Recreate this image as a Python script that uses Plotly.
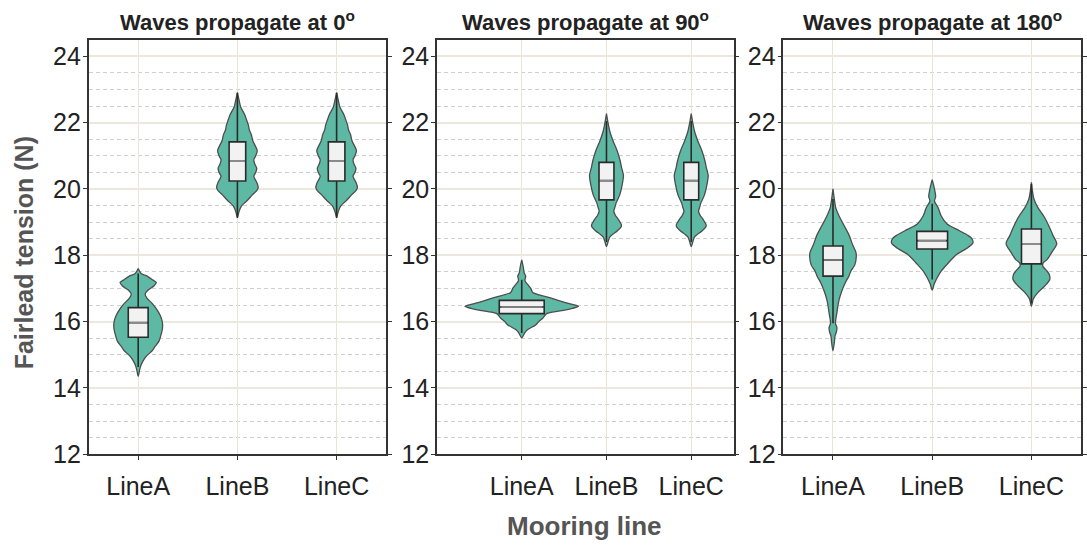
import plotly.graph_objects as go

# ---- data ---------------------------------------------------------------
panels = ["Waves propagate at 0<sup>o</sup>",
          "Waves propagate at 90<sup>o</sup>",
          "Waves propagate at 180<sup>o</sup>"]
lines = ["LineA", "LineB", "LineC"]
y_ticks = [12, 14, 16, 18, 20, 22, 24]

# violin outlines: tension levels (N) and kernel density (relative half-width)
p0_lineA_levels = [14.35, 14.55, 14.7, 14.87, 14.98, 15.12, 15.25, 15.41, 15.6, 15.8, 16.0, 16.2, 16.4,
                   16.55, 16.7, 16.83, 16.95, 17.08, 17.18, 17.25, 17.37, 17.45, 17.6]
p0_lineA_density = [0, 1.5, 3, 6, 9, 14, 17, 21, 23, 24.5, 24.3, 22, 18,
                    14, 9, 7, 10, 16, 18.3, 15, 9, 3, 0]
p0_lineB_levels = [19.14, 19.3, 19.48, 19.6, 19.68, 19.82, 19.95, 20.05, 20.2, 20.38, 20.5, 20.62,
                   20.75, 20.88, 21.0, 21.15, 21.3, 21.45, 21.64, 21.78, 21.93, 22.1, 22.23,
                   22.47, 22.7, 22.9]
p0_lineB_density = [0, 1.5, 4, 8, 10.8, 15, 19.5, 21, 19.5, 16.5, 18.5, 19.5,
                    17.5, 16.5, 18.5, 20, 18, 15.5, 14, 12, 11, 9, 7.5,
                    3.3, 1.5, 0]
p0_lineC_levels = p0_lineB_levels
p0_lineC_density = p0_lineB_density

p90_lineA_levels = [15.51, 15.66, 15.76, 15.9, 16.0, 16.1, 16.24, 16.34, 16.4, 16.46, 16.52, 16.59,
                    16.74, 16.88, 17.0, 17.08, 17.23, 17.3, 17.37, 17.47, 17.65, 17.86]
p90_lineA_density = [0, 3, 6, 14, 17, 21, 25, 42, 51, 57, 51, 42,
                     26, 11, 9, 7, 3.3, 3.5, 4, 2.5, 1.5, 0]
p90_lineB_levels = [18.26, 18.45, 18.55, 18.74, 18.85, 18.91, 19.0, 19.09, 19.2, 19.33, 19.45, 19.58,
                    19.82, 20.12, 20.41, 20.66, 20.85, 21.15, 21.44, 21.74, 22.0, 22.27]
p90_lineB_density = [0, 2, 3.3, 11, 14.5, 15, 13.5, 11.7, 9, 7.3, 8.5, 9.7,
                     13.3, 15.7, 17, 15, 13.7, 10.7, 6.7, 3.3, 1.5, 0]
p90_lineC_levels = p90_lineB_levels
p90_lineC_density = p90_lineB_density

p180_lineA_levels = [15.12, 15.4, 15.56, 15.7, 15.82, 15.95, 16.1, 16.24, 16.64, 16.93, 17.18, 17.37,
                     17.52, 17.71, 17.96, 18.1, 18.3, 18.6, 18.89, 19.19, 19.43, 19.7, 20.0]
p180_lineA_density = [0, 1.5, 2, 3.5, 4, 2.5, 3, 3.8, 6, 9, 12.5, 16,
                      18, 22, 23.5, 23, 20, 16.3, 11.3, 6, 2.8, 1.3, 0]
p180_lineB_levels = [16.95, 17.13, 17.32, 17.52, 17.76, 18.01, 18.21, 18.37, 18.5, 18.6, 18.74, 18.94,
                     19.19, 19.43, 19.63, 19.77, 19.97, 20.28]
p180_lineB_density = [0, 2, 5, 9, 16, 24, 35, 41, 40, 36, 27.5, 15,
                      9, 6, 2.3, 3.5, 2.5, 0]
p180_lineC_levels = [16.46, 16.69, 16.88, 17.08, 17.27, 17.42, 17.55, 17.67, 17.78, 17.86, 18.11, 18.35,
                     18.6, 18.84, 19.14, 19.43, 19.68, 19.95, 20.2]
p180_lineC_density = [0, 2, 6.7, 13.7, 18.5, 18, 15, 11.5, 12, 15.5, 21, 25.5,
                      21.7, 18.3, 13.3, 6.7, 2.7, 1, 0]

# box statistics per line: q1, median, q3, whisker low, whisker high
p0_q1 = [15.53, 20.24, 20.24]
p0_median = [15.97, 20.85, 20.85]
p0_q3 = [16.42, 21.42, 21.42]
p0_low = [14.63, 19.12, 19.12]
p0_high = [17.45, 22.9, 22.9]

p90_q1 = [16.24, 19.67, 19.67]
p90_median = [16.44, 20.25, 20.25]
p90_q3 = [16.64, 20.8, 20.8]
p90_low = [15.66, 18.4, 18.4]
p90_high = [17.26, 22.05, 22.05]

p180_q1 = [17.37, 18.19, 17.74]
p180_median = [17.86, 18.44, 18.33]
p180_q3 = [18.28, 18.72, 18.79]
p180_low = [15.95, 17.27, 16.55]
p180_high = [19.7, 19.55, 20.15]

# ---- style --------------------------------------------------------------
FONT = "Liberation Sans, Arial, sans-serif"
VIOLIN_FILL = "#5eb9a4"
VIOLIN_EDGE = "#4d4d4d"
BOX_FILL = "#f2f2f2"
BOX_EDGE = "#2b2b2b"
MEDIAN_COLOR = "#8a8a8a"

W, H = 1087, 556
x_domains = [(89 / W, 388 / W), (439 / W, 737 / W), (787 / W, 1086 / W)]
x_ranges = [[-0.5, 2.5], [-1.0, 2.5], [-0.5, 2.5]]
y_range = [12, 24.5]
y_domain = ((556 - 466) / H, (556 - 40.7) / H)
density_scale = [0.01, 0.01 / 0.85, 0.01]      # density -> x data units per panel
box_widths = [[0.20, 0.167, 0.167], [0.53, 0.176, 0.176], [0.20, 0.31, 0.20]]

violins = [
    [(p0_lineA_levels, p0_lineA_density), (p0_lineB_levels, p0_lineB_density),
     (p0_lineC_levels, p0_lineC_density)],
    [(p90_lineA_levels, p90_lineA_density), (p90_lineB_levels, p90_lineB_density),
     (p90_lineC_levels, p90_lineC_density)],
    [(p180_lineA_levels, p180_lineA_density), (p180_lineB_levels, p180_lineB_density),
     (p180_lineC_levels, p180_lineC_density)],
]
boxes = [
    (p0_q1, p0_median, p0_q3, p0_low, p0_high),
    (p90_q1, p90_median, p90_q3, p90_low, p90_high),
    (p180_q1, p180_median, p180_q3, p180_low, p180_high),
]

fig = go.Figure()

for p in range(3):
    # violins live on the panel axes; boxes on an overlaid twin so they render on top
    xa = "x" if p == 0 else f"x{p + 1}"
    ya = "y" if p == 0 else f"y{p + 1}"
    xb, yb = f"x{p + 4}", f"y{p + 4}"
    q1, med, q3, lo, hi = boxes[p]
    for i, (levels, dens) in enumerate(violins[p]):
        half = [d * density_scale[p] for d in dens]
        xs = [i + h for h in half] + [i - h for h in reversed(half)]
        ys = list(levels) + list(reversed(levels))
        fig.add_trace(go.Scatter(
            x=xs, y=ys, xaxis=xa, yaxis=ya, mode="lines", fill="toself",
            fillcolor=VIOLIN_FILL, line=dict(color=VIOLIN_EDGE, width=1.3, shape="spline", smoothing=0.8),
            hoverinfo="skip", showlegend=False))
        fig.add_trace(go.Box(
            x=[i], q1=[q1[i]], median=[med[i]], q3=[q3[i]],
            lowerfence=[lo[i]], upperfence=[hi[i]], orientation="v",
            xaxis=xb, yaxis=yb, width=box_widths[p][i], whiskerwidth=0,
            fillcolor=BOX_FILL, line=dict(color=BOX_EDGE, width=1.6),
            boxpoints=False, hoverinfo="skip", showlegend=False))
        # median stroke in a lighter grey
        fig.add_trace(go.Box(
            x=[i], q1=[med[i]], median=[med[i]], q3=[med[i]],
            lowerfence=[med[i]], upperfence=[med[i]], orientation="v",
            xaxis=xb, yaxis=yb, width=box_widths[p][i] * 0.9, whiskerwidth=0,
            fillcolor=BOX_FILL, line=dict(color=MEDIAN_COLOR, width=1.4),
            boxpoints=False, hoverinfo="skip", showlegend=False))

layout = dict(
    width=W, height=H, margin=dict(l=0, r=0, t=0, b=0),
    paper_bgcolor="white", plot_bgcolor="white",
    font=dict(family=FONT, color="#222222"),
    showlegend=False,
)
for p in range(3):
    sx = "" if p == 0 else str(p + 1)
    layout[f"xaxis{sx}"] = dict(
        domain=list(x_domains[p]), range=x_ranges[p], anchor=f"y{sx}",
        tickmode="array", tickvals=[0, 1, 2], ticktext=lines,
        showgrid=True, gridcolor="#e8e5d8", gridwidth=1,
        zeroline=False, showline=True, linecolor="#333333", linewidth=1.5, mirror=True,
        ticks="outside", ticklen=4, tickcolor="#333333", tickwidth=1,
        tickfont=dict(size=25, family=FONT, color="#222222"), ticklabelstandoff=5,
        fixedrange=True)
    layout[f"yaxis{sx}"] = dict(
        domain=list(y_domain), range=y_range, anchor=f"x{sx}",
        tickmode="array", tickvals=y_ticks,
        showgrid=True, gridcolor="#ece8de", gridwidth=1.5,
        minor=dict(tick0=12, dtick=0.5, showgrid=True, gridcolor="#cfcfcf",
                   griddash="4px,3px", gridwidth=1, ticks=""),
        zeroline=False, showline=True, linecolor="#333333", linewidth=1.5, mirror="ticks",
        ticks="outside", ticklen=4, tickcolor="#333333", tickwidth=1,
        tickfont=dict(size=25, family=FONT, color="#222222"), ticklabelstandoff=-3,
        fixedrange=True)
    base_x = "x" if p == 0 else f"x{p + 1}"
    base_y = "y" if p == 0 else f"y{p + 1}"
    layout[f"xaxis{p + 4}"] = dict(
        overlaying=base_x, range=x_ranges[p], anchor=f"y{p + 4}", visible=False,
        showgrid=False, zeroline=False, fixedrange=True)
    layout[f"yaxis{p + 4}"] = dict(
        overlaying=base_y, range=y_range, anchor=f"x{p + 4}", visible=False,
        showgrid=False, zeroline=False, fixedrange=True)

annotations = []
for p in range(3):
    cx = (x_domains[p][0] + x_domains[p][1]) / 2
    annotations.append(dict(
        text=f"<b>{panels[p]}</b>", x=cx, y=(H - 22) / H, xref="paper", yref="paper",
        xanchor="center", yanchor="middle", showarrow=False,
        font=dict(size=22, family=FONT, color="#222222")))
annotations.append(dict(
    text="<b>Fairlead tension (N)</b>", x=25 / W, y=(H - 259) / H, xref="paper", yref="paper",
    xanchor="center", yanchor="middle", textangle=-90, showarrow=False,
    font=dict(size=25, family=FONT, color="#555555")))
annotations.append(dict(
    text="<b>Mooring line</b>", x=587 / W, y=(H - 540) / H, xref="paper", yref="paper",
    xanchor="center", yanchor="middle", showarrow=False,
    font=dict(size=26, family=FONT, color="#555555")))
layout["annotations"] = annotations

fig.update_layout(**layout)
fig.write_html("out.html", config={"displayModeBar": False})
